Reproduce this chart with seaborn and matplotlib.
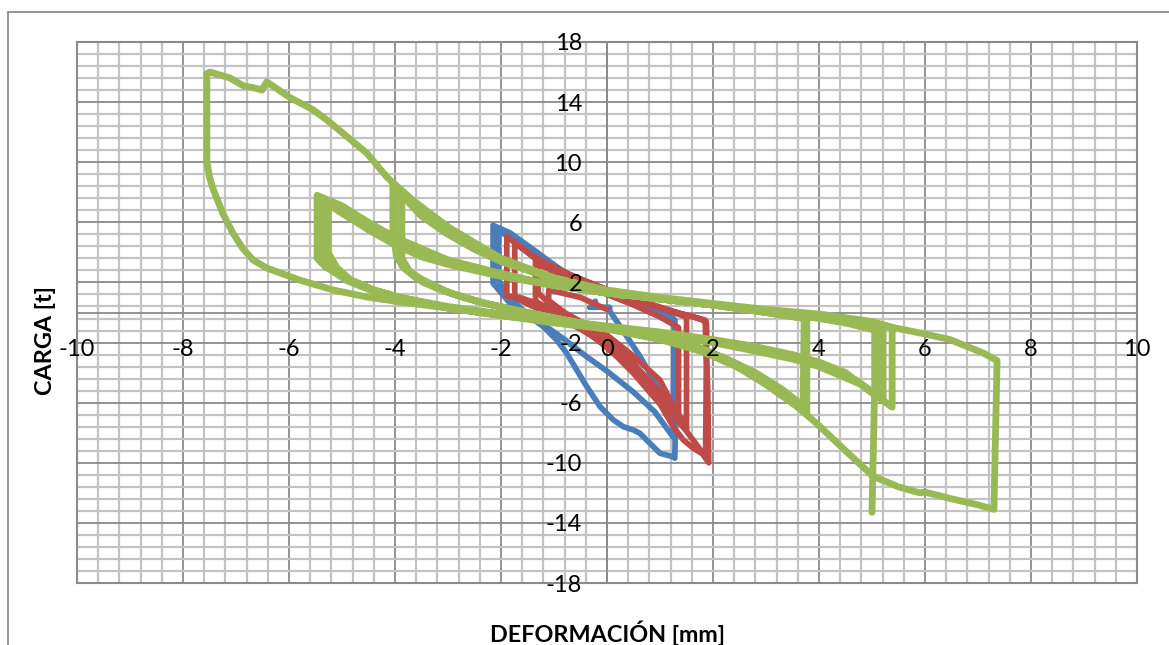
import numpy as np
import pandas as pd
import matplotlib
matplotlib.use("Agg")
import matplotlib.pyplot as plt
import seaborn as sns
from matplotlib.ticker import FixedLocator, NullLocator
from matplotlib.patches import Rectangle

# ---- Ensayo 1 (azul) ----
def_azul = [-0.22, -0.22, -0.32, 0.05, 0.05,
            0.3, 0.6, 0.9, 1.15, 1.25,
            1.27,
            1.0, 0.5, 0.0, -0.5, -1.0, -1.4, -1.7, -2.05,
            -2.05,
            -1.9, -1.6, -1.2, -0.8, -0.4, 0.0, 0.5, 0.9, 1.25,
            1.28,
            1.13, 0.5, -0.13, -0.57, -0.95, -1.38, -1.83, -2.15,
            -2.15,
            -1.83, -1.64, -1.2, -0.95, -0.76, -0.57, -0.38, -0.13, 0.12, 0.31, 0.5, 0.62,
            0.81, 1.0, 1.25, 1.28, 1.3]
carga_azul = [0.75, 0.35, 0.35, 0.35, 0.1,
              -1.2, -2.8, -4.6, -6.3, -7.2,
              -0.6,
              -0.1, 0.7, 1.5, 2.2, 3.0, 3.7, 4.6, 5.5,
              2.2,
              1.2, 0.2, -0.8, -1.8, -2.9, -3.9, -5.3, -6.6, -8.3,
              -0.5,
              0.0, 0.85, 1.6, 2.16, 3.05, 4.16, 5.3, 5.8,
              1.95,
              0.61, 0.17, -0.94, -1.83, -2.71, -3.83, -4.94, -6.27, -7.15, -7.6, -7.82, -8.04,
              -8.7, -9.37, -9.6, -9.7, -5.0]

# ---- Ensayo 2 (rojo) ----
def_rojo = [0.0, -0.5, -1.1, -1.1, -0.8, -0.4, 0.0, 0.5, 1.0, 1.35,
            1.35,
            1.0, 0.5, 0.0, -0.5, -1.0, -1.35,
            -1.35,
            -1.1, -0.6, 0.0, 0.5, 1.0, 1.5,
            1.5,
            1.0, 0.5, 0.0, -0.5, -1.0, -1.4, -1.74,
            -1.74,
            -1.4, -1.0, -0.5, 0.0, 0.5, 1.0, 1.5, 1.86,
            1.88, 1.87,
            1.63, 1.13, 0.5, -0.13, -0.76, -1.39, -1.89,
            -1.89,
            -1.64, -1.14, -0.76, -0.13, 0.5, 1.0, 1.25, 1.44, 1.63, 1.8, 1.92,
            1.9, 1.85,
            1.4, 0.8, 0.2, -0.4, -0.9, -1.3,
            -1.3,
            -0.9, -0.3, 0.3, 0.8, 1.2, 1.45]
carga_rojo = [0.2, 1.0, 1.5, 0.8, 0.0, -0.8, -1.5, -2.9, -4.5, -6.9,
              -1.0,
              -0.3, 0.5, 1.2, 1.9, 2.7, 3.5,
              0.8,
              0.1, -0.8, -1.9, -3.4, -5.3, -7.8,
              -0.3,
              0.3, 0.9, 1.5, 2.2, 3.0, 3.8, 4.6,
              1.0,
              0.4, -0.2, -1.1, -2.2, -3.8, -5.8, -7.9, -9.6,
              -0.9, -0.6,
              -0.28, 0.17, 0.83, 1.71, 2.6, 3.71, 5.04,
              1.1,
              1.0, 0.39, -0.5, -1.83, -4.05, -6.1, -7.6, -8.48, -9.04, -9.4, -10.0,
              -5.0, -0.5,
              -0.1, 0.6, 1.3, 2.0, 2.6, 3.2,
              1.3,
              0.0, -1.5, -3.2, -4.8, -6.2, -7.2]

# ---- Ensayo 3 (verde) ----
def_verde = [
    # ciclo A1
    0.3, 0.0, -0.5, -1.0, -1.5, -2.0, -2.5, -3.0, -3.5, -3.9, -4.0,
    -4.0, -3.98,
    -3.85, -3.6, -3.2, -2.8, -2.3, -1.5, -0.8, 0.0, 0.8, 1.5, 2.0, 2.5, 3.0, 3.4, 3.72,
    3.74, 3.75,
    # ciclo A2
    3.0, 2.0, 1.0, 0.0, -1.0, -2.0, -2.5, -3.0, -3.5, -3.87,
    -3.87,
    -3.7, -3.47, -2.96, -2.5, -1.8, -1.0, 0.0, 1.0, 1.8, 2.4, 3.0, 3.4, 3.77,
    3.77,
    # ciclo A3
    3.0, 2.0, 1.0, 0.0, -1.0, -2.0, -3.0, -3.6, -4.04,
    -4.04, -3.95,
    -3.8, -3.47, -2.96, -2.3, -1.5, -0.5, 0.5, 1.5, 2.2, 2.8, 3.3, 3.7,
    3.72,
    # ciclo B1
    3.0, 2.0, 1.0, 0.0, -1.0, -2.0, -3.0, -3.5, -4.0, -4.5, -5.0, -5.26,
    -5.26,
    -5.1, -4.85, -4.4, -3.9, -3.0, -2.0, -1.0, 0.0, 1.0, 2.0, 2.7, 3.5, 4.0, 4.5, 5.09,
    5.09,
    # ciclo B2
    4.5, 4.0, 3.0, 2.0, 1.0, 0.0, -1.0, -2.0, -3.0, -4.0, -4.5, -5.0, -5.37,
    -5.37,
    -5.2, -4.9, -4.4, -3.9, -3.0, -2.0, -1.0, 0.0, 1.0, 2.0, 2.7, 3.5, 4.0, 4.7, 5.21,
    5.21,
    # ciclo B3
    4.5, 4.0, 3.0, 2.0, 1.0, 0.0, -1.0, -2.0, -3.0, -4.0, -4.5, -5.0, -5.47,
    -5.47,
    -5.3, -4.85, -4.4, -3.9, -3.0, -2.0, -1.0, 0.0, 1.0, 2.0, 2.7, 3.5, 4.0, 4.8, 5.38,
    5.38,
    # ciclo mayor
    5.0, 4.0, 3.0, 2.0, 1.0, 0.0, -1.0, -2.0, -3.0, -3.5, -3.9, -4.15, -4.53, -5.04, -5.3,
    -5.55, -5.98, -6.42, -6.51, -6.6, -6.87, -7.11, -7.49, -7.55,
    -7.55, -7.55,
    -7.5, -7.43, -7.25, -7.06, -6.88, -6.68, -6.42, -5.8, -5.17, -4.53, -3.9, -3.0, -2.0,
    -1.0, 0.0, 1.0, 1.8, 2.5, 3.0, 3.5, 3.96, 4.5, 5.02, 5.5, 5.9, 6.0, 6.5, 7.0, 7.3,
    7.33, 7.36,
    7.1, 6.47, 5.96, 5.4, 5.05,
    # tramo final
    5.05, 5.02, 5.0]
carga_verde = [
    1.1, 1.35, 1.8, 2.3, 2.9, 3.6, 4.5, 5.6, 6.9, 8.0, 8.3,
    5.5, 3.8,
    3.0, 2.3, 1.6, 1.1, 0.6, 0.0, -0.5, -1.0, -1.6, -2.2, -2.9, -3.7, -4.6, -5.5, -6.4,
    -3.0, -0.4,
    0.0, 0.5, 0.9, 1.4, 2.2, 3.4, 4.2, 5.2, 6.4, 7.8,
    3.6,
    2.6, 2.0, 1.3, 0.8, 0.2, -0.4, -1.1, -1.8, -2.6, -3.5, -4.8, -5.8, -6.7,
    -0.3,
    0.1, 0.5, 0.9, 1.4, 2.3, 3.6, 5.7, 7.3, 8.6,
    5.0, 3.7,
    2.9, 2.16, 1.3, 0.6, 0.0, -0.7, -1.4, -2.1, -3.0, -4.0, -5.1, -6.2,
    -0.4,
    0.0, 0.5, 0.9, 1.3, 1.8, 2.4, 3.2, 3.7, 4.5, 5.5, 6.6, 7.2,
    4.0,
    3.0, 2.2, 1.5, 1.0, 0.4, -0.1, -0.5, -0.9, -1.3, -1.8, -2.2, -2.8, -3.3, -4.0, -5.6,
    -1.2,
    -0.7, -0.4, 0.1, 0.5, 0.9, 1.3, 1.8, 2.5, 3.3, 4.7, 5.8, 7.0, 7.5,
    3.8,
    2.8, 2.1, 1.4, 0.9, 0.3, -0.2, -0.6, -1.0, -1.4, -1.9, -2.4, -3.0, -3.5, -4.5, -5.8,
    -1.1,
    -0.6, -0.3, 0.1, 0.5, 0.9, 1.3, 1.8, 2.6, 3.5, 5.0, 6.0, 7.1, 7.8,
    3.6,
    3.0, 2.16, 1.5, 1.0, 0.3, -0.2, -0.7, -1.1, -1.5, -2.0, -2.5, -3.1, -3.6, -4.8, -6.3,
    -1.0,
    -0.6, -0.1, 0.2, 0.6, 1.0, 1.5, 2.3, 3.4, 5.3, 6.7, 8.2, 9.0, 10.6, 12.1, 12.85,
    13.5, 14.3, 15.35, 14.8, 14.9, 15.1, 15.6, 16.0, 15.9,
    12.5, 10.1,
    9.0, 8.2, 6.6, 5.3, 4.3, 3.5, 2.96, 2.16, 1.5, 1.03, 0.7, 0.3, -0.1,
    -0.5, -1.0, -1.6, -2.4, -3.5, -4.7, -6.0, -7.4, -9.2, -10.9, -11.6, -12.0, -11.95, -12.4, -12.8, -13.1,
    -8.0, -3.2,
    -2.7, -1.8, -1.4, -1.0, -0.7,
    -5.0, -10.0, -13.3]

series_nombres = ["Ensayo 1", "Ensayo 2", "Ensayo 3"]
series_colores = ["#4A7EBB", "#BE4B48", "#98B954"]

xticks = [-10, -8, -6, -4, -2, 0, 2, 4, 6, 8, 10]
yticks = [-18, -14, -10, -6, -2, 2, 6, 10, 14, 18]

frames = []
for nombre, dx, cy in zip(series_nombres,
                          [def_azul, def_rojo, def_verde],
                          [carga_azul, carga_rojo, carga_verde]):
    frames.append(pd.DataFrame({"deformacion": dx, "carga": cy, "ensayo": nombre}))
df = pd.concat(frames, ignore_index=True)

sns.set_theme(style="white")
plt.rcParams["font.family"] = ["Lato", "DejaVu Sans"]

W, H = 1169, 645
fig = plt.figure(figsize=(W / 100, H / 100), dpi=100)
pos = [77 / W, 62 / H, 1060 / W, 541 / H]
ax = fig.add_axes(pos)

anchos = {"Ensayo 1": 4.1, "Ensayo 2": 4.1, "Ensayo 3": 4.9}
for nombre, color in zip(series_nombres, series_colores):
    sns.lineplot(data=df[df["ensayo"] == nombre], x="deformacion", y="carga",
                 sort=False, estimator=None, color=color, lw=anchos[nombre],
                 solid_capstyle="round", solid_joinstyle="round", ax=ax, legend=False)

ax.set_xlim(-10, 10)
ax.set_ylim(-18, 18)
ax.xaxis.set_major_locator(FixedLocator(xticks))
ax.yaxis.set_major_locator(FixedLocator(yticks))
ax.xaxis.set_minor_locator(FixedLocator(np.arange(-10, 10.001, 0.4)))
ax.yaxis.set_minor_locator(FixedLocator(np.arange(-18, 18.001, 0.8)))
ax.set_axisbelow(True)
ax.grid(which="minor", color="#c3c3c3", lw=1.6)
ax.grid(which="major", color="#8a8a8a", lw=1.3)
ax.tick_params(which="both", length=0, labelbottom=False, labelleft=False)
ax.set_xlabel("")
ax.set_ylabel("")
for s in ax.spines.values():
    s.set_visible(True)
    s.set_color("#8a8a8a")
    s.set_linewidth(1.5)
ax.axhline(0, color="#8a8a8a", lw=1.3, zorder=1)
ax.axvline(0, color="#8a8a8a", lw=1.3, zorder=1)

# overlay axes carrying the tick labels above the curves
ax2 = fig.add_axes(pos)
ax2.set_xlim(-10, 10)
ax2.set_ylim(-18, 18)
ax2.patch.set_visible(False)
ax2.grid(False)
ax2.spines["top"].set_visible(False)
ax2.spines["right"].set_visible(False)
ax2.spines["bottom"].set_position(("data", 0))
ax2.spines["left"].set_position(("data", 0))
ax2.spines["bottom"].set_color("none")
ax2.spines["left"].set_color("none")
ax2.xaxis.set_major_locator(FixedLocator(xticks))
ax2.yaxis.set_major_locator(FixedLocator(yticks))
ax2.xaxis.set_minor_locator(NullLocator())
ax2.yaxis.set_minor_locator(NullLocator())
ax2.set_xticklabels([str(v) for v in xticks])
ax2.set_yticklabels([str(v) for v in yticks])
ax2.tick_params(which="both", length=0, pad=18, labelsize=17, colors="black")
ax2.tick_params(axis="x", pad=19)

fig.text(607 / W, 1 - 633 / H, "DEFORMACIÓN [mm]", ha="center", va="center",
         fontsize=16.8, fontweight="bold", color="black")
fig.text(46 / W, 1 - 341 / H, "CARGA [t]", ha="center", va="center", rotation=90,
         fontsize=16.8, fontweight="bold", color="black")

fig.add_artist(Rectangle((8 / W, -0.05), 1.2, (H - 12) / H + 0.05, fill=False,
                         edgecolor="#8c8c8c", lw=1.3, transform=fig.transFigure))

fig.savefig("out.png", dpi=100)
